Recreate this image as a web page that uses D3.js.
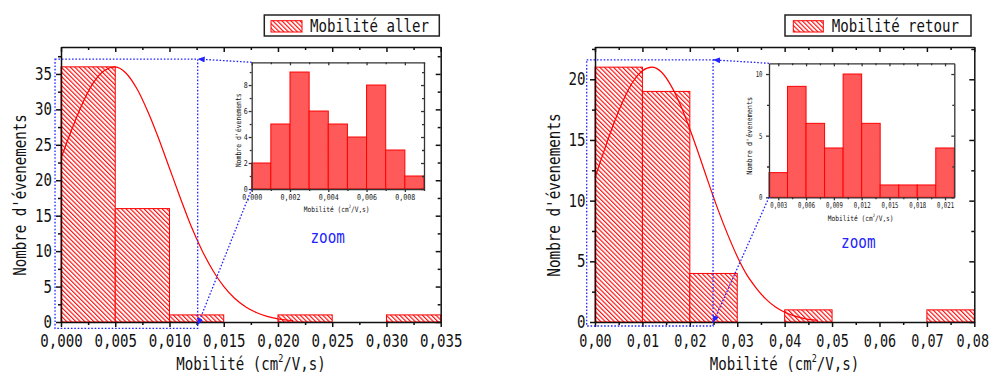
<!DOCTYPE html>
<html><head><meta charset="utf-8">
<script src="https://cdn.jsdelivr.net/npm/d3@7"></script>
<style>body{margin:0;background:#fff} svg{display:block}</style>
</head><body><svg id="c" width="991" height="374"></svg>
<script>
// ---------------- DATA ----------------
const allerEdges = [0, 0.005, 0.010, 0.015, 0.020, 0.025, 0.030, 0.035];
const allerCounts = [36, 16, 1, 0, 1, 0, 1];
const allerZoomEdges = [0, 0.001, 0.002, 0.003, 0.004, 0.005, 0.006, 0.007, 0.008, 0.009];
const allerZoomCounts = [2, 5, 9, 6, 5, 4, 8, 3, 1];
const allerFitX = [0, 0.001, 0.002, 0.003, 0.004, 0.005, 0.006, 0.007, 0.008, 0.009, 0.010, 0.011,
  0.012, 0.013, 0.014, 0.015, 0.016, 0.017, 0.018, 0.019, 0.020, 0.021, 0.0214];
const allerFitY = [23.1, 27.2, 30.9, 33.8, 35.5, 36.0, 35.1, 32.9, 29.7, 25.9, 21.7, 17.5,
  13.5, 10.1, 7.27, 5.03, 3.35, 2.15, 1.33, 0.79, 0.45, 0.25, 0.19];

const retourEdges = [0, 0.01, 0.02, 0.03, 0.04, 0.05, 0.06, 0.07, 0.08];
const retourCounts = [21, 19, 4, 0, 1, 0, 0, 1];
const retourZoomEdges = [0.002, 0.004, 0.006, 0.008, 0.010, 0.012, 0.014, 0.016, 0.018, 0.020, 0.022];
const retourZoomCounts = [2, 9, 6, 4, 10, 6, 1, 1, 1, 4];
const retourFitX = [0, 0.002, 0.004, 0.006, 0.008, 0.010, 0.012, 0.014, 0.016, 0.018, 0.020, 0.022,
  0.024, 0.026, 0.028, 0.030, 0.032, 0.034, 0.036, 0.038, 0.040, 0.042, 0.044, 0.046, 0.047];
const retourFitY = [11.9, 14.2, 16.4, 18.3, 19.8, 20.7, 21.0, 20.6, 19.5, 17.9, 15.9, 13.7,
  11.4, 9.2, 7.2, 5.4, 3.9, 2.8, 1.9, 1.25, 0.8, 0.5, 0.3, 0.17, 0.13];

const allerXTicks = ["0,000", "0,005", "0,010", "0,015", "0,020", "0,025", "0,030", "0,035"];
const allerYTicks = ["0", "5", "10", "15", "20", "25", "30", "35"];
const allerZoomXTicks = ["0,000", "0,002", "0,004", "0,006", "0,008"];
const allerZoomYTicks = ["0", "2", "4", "6", "8"];
const retourXTicks = ["0,00", "0,01", "0,02", "0,03", "0,04", "0,05", "0,06", "0,07", "0,08"];
const retourYTicks = ["0", "5", "10", "15", "20"];
const retourZoomXTicks = ["0,003", "0,006", "0,009", "0,012", "0,015", "0,018", "0,021"];
const retourZoomYTicks = ["0", "5", "10"];

const legendAller = "Mobilité aller";
const legendRetour = "Mobilité retour";
const yTitle = "Nombre d'évenements";
const zoomWord = "zoom";

// ---------------- DRAWING ----------------
const num = s => +s.replace(",", ".");
const MONO = "DejaVu Sans Mono";
const svg = d3.select("#c");
svg.append("rect").attr("width", 991).attr("height", 374).attr("fill", "#fff");
const defs = svg.append("defs");

const hp = defs.append("pattern").attr("id", "hatch").attr("patternUnits", "userSpaceOnUse")
  .attr("width", 3.2).attr("height", 3.2).attr("patternTransform", "rotate(45)");
hp.append("rect").attr("width", 3.2).attr("height", 3.2).attr("fill", "#fff");
hp.append("line").attr("x1", 0).attr("x2", 3.2).attr("y1", 1).attr("y2", 1)
  .attr("stroke", "#ff0000").attr("stroke-width", 1.1);

const dp = defs.append("pattern").attr("id", "dense").attr("patternUnits", "userSpaceOnUse")
  .attr("width", 2).attr("height", 2).attr("patternTransform", "rotate(45)");
dp.append("rect").attr("width", 2).attr("height", 2).attr("fill", "#ff2020");
dp.append("line").attr("x1", 0).attr("x2", 2).attr("y1", 1).attr("y2", 1)
  .attr("stroke", "#ffc4c4").attr("stroke-width", 0.7);

defs.append("marker").attr("id", "arr").attr("markerUnits", "userSpaceOnUse")
  .attr("markerWidth", 8).attr("markerHeight", 8).attr("refX", 7).attr("refY", 3)
  .attr("orient", "auto")
  .append("path").attr("d", "M0,0 L7,3 L0,6 Z").attr("fill", "#2323ff");

// condense monospace text horizontally to a given per-character width
function fitText(sel, cw) {
  sel.each(function () {
    const fs = parseFloat(this.getAttribute("font-size"));
    const sx = cw / (0.602 * fs);
    const x0 = +(this.getAttribute("x") || 0);
    this.setAttribute("transform", `translate(${x0},0) scale(${sx},1) translate(${-x0},0)`);
  });
}

function bars(g, x, y, edges, counts, fill) {
  const d = counts.map((c, i) => ({ c, a: edges[i], b: edges[i + 1] })).filter(o => o.c > 0);
  g.append("g").selectAll("rect").data(d).join("rect")
    .attr("x", o => x(o.a)).attr("y", o => y(o.c))
    .attr("width", o => x(o.b) - x(o.a)).attr("height", o => y(0) - y(o.c))
    .attr("fill", fill).attr("stroke", "#ff0000").attr("stroke-width", 1);
}

function frame(g, x, y, o) {
  const [xa, xb] = x.range();
  const [ya, yb] = y.range();
  const style = sel => {
    sel.selectAll("path,line").attr("stroke", o.color).attr("stroke-width", o.sw);
    sel.selectAll("text").attr("font-family", MONO).attr("font-size", o.fs).attr("fill", "#111");
  };
  const xv = o.xl.map(num), yv = o.yl.map(num);
  [[d3.axisBottom, ya, o.minor, o.xm, x], [d3.axisTop, yb, -o.minor, o.xm, x]].forEach(([ax, t, s, v, sc]) => {
    const a = g.append("g").attr("transform", `translate(0,${t})`)
      .call(ax(sc).tickValues(v).tickFormat("").tickSizeInner(s).tickSizeOuter(0));
    a.select(".domain").remove(); style(a);
  });
  [[d3.axisLeft, xa, o.minor, o.ym, y], [d3.axisRight, xb, -o.minor, o.ym, y]].forEach(([ax, t, s, v, sc]) => {
    const a = g.append("g").attr("transform", `translate(${t},0)`)
      .call(ax(sc).tickValues(v).tickFormat("").tickSizeInner(s).tickSizeOuter(0));
    a.select(".domain").remove(); style(a);
  });
  const b = g.append("g").attr("transform", `translate(0,${ya})`)
    .call(d3.axisBottom(x).tickValues(xv).tickFormat((d, i) => o.xl[i]).tickSizeInner(o.major).tickSizeOuter(0).tickPadding(o.padX));
  style(b);
  if (o.lastShift) b.selectAll("text").filter((d, i, n) => i === n.length - 1).attr("x", o.lastShift);
  fitText(b.selectAll("text"), o.cwx || o.cw);
  const t = g.append("g").attr("transform", `translate(0,${yb})`)
    .call(d3.axisTop(x).tickValues(xv).tickFormat("").tickSizeInner(-o.major).tickSizeOuter(0));
  style(t);
  const l = g.append("g").attr("transform", `translate(${xa},0)`)
    .call(d3.axisLeft(y).tickValues(yv).tickFormat((d, i) => o.yl[i]).tickSizeInner(o.major).tickSizeOuter(0).tickPadding(o.padY));
  style(l); fitText(l.selectAll("text"), o.cw);
  const r = g.append("g").attr("transform", `translate(${xb},0)`)
    .call(d3.axisRight(y).tickValues(yv).tickFormat("").tickSizeInner(-o.major).tickSizeOuter(0));
  style(r);
}

function xTitle(g, cx, by, fs, cw) {
  const sx = cw / (0.602 * fs);
  const gg = g.append("g").attr("transform", `translate(${cx},${by}) scale(${sx},1)`);
  const t = gg.append("text").attr("text-anchor", "middle").attr("font-family", MONO)
    .attr("font-size", fs).attr("fill", "#111");
  t.append("tspan").text("Mobilité (cm");
  t.append("tspan").attr("font-size", fs * 0.6).attr("dy", -fs * 0.42).text("2");
  t.append("tspan").attr("dy", fs * 0.42).text("/V,s)");
}
function yTitleDraw(g, bx, cy, fs, cw) {
  const sx = cw / (0.602 * fs);
  g.append("g").attr("transform", `translate(${bx},${cy}) rotate(-90) scale(${sx},1)`)
    .append("text").attr("text-anchor", "middle").attr("font-family", MONO)
    .attr("font-size", fs).attr("fill", "#111").text(yTitle);
}

function fitLine(g, x, y, fx, fy) {
  g.append("path").attr("d", d3.line().x(d => x(d[0])).y(d => y(d[1])).curve(d3.curveMonotoneX)(d3.zip(fx, fy)))
    .attr("fill", "none").attr("stroke", "#ff0000").attr("stroke-width", 1.2);
}

function zoomMarks(g, x, y, rx, ry, tipTop, tipBot, ix, iy) {
  const blue = "#2323ff";
  g.append("rect").attr("x", x(rx[0])).attr("y", y(ry[1]))
    .attr("width", x(rx[1]) - x(rx[0])).attr("height", y(ry[0]) - y(ry[1]))
    .attr("fill", "none").attr("stroke", blue).attr("stroke-width", 1.3).attr("stroke-dasharray", "1.6,1.8");
  const ir = ix.range(), jr = iy.range();
  g.append("line").attr("x1", ir[0]).attr("y1", jr[1]).attr("x2", x(tipTop[0])).attr("y2", y(tipTop[1]))
    .attr("stroke", blue).attr("stroke-width", 1.3).attr("stroke-dasharray", "1.6,1.8").attr("marker-end", "url(#arr)");
  g.append("line").attr("x1", ir[0]).attr("y1", jr[0]).attr("x2", x(tipBot[0])).attr("y2", y(tipBot[1]))
    .attr("stroke", blue).attr("stroke-width", 1.3).attr("stroke-dasharray", "1.6,1.8").attr("marker-end", "url(#arr)");
}

function legend(g, bx, by, bw, bh, sx, sw, tx, text) {
  g.append("rect").attr("x", bx).attr("y", by).attr("width", bw).attr("height", bh)
    .attr("fill", "#fff").attr("stroke", "#222").attr("stroke-width", 1.5);
  g.append("rect").attr("x", sx).attr("y", by + 5.7).attr("width", sw).attr("height", 11.3)
    .attr("fill", "url(#hatch)").attr("stroke", "#ff0000").attr("stroke-width", 1);
  const t = g.append("text").attr("x", tx).attr("y", by + 16.7).attr("font-family", MONO)
    .attr("font-size", 17).attr("fill", "#111").text(text);
  fitText(t, 8.5);
}

function zoomLabel(g, cx, cy) {
  const t = g.append("text").attr("x", cx).attr("y", cy + 5).attr("text-anchor", "middle")
    .attr("font-family", MONO).attr("font-size", 17).attr("fill", "#2323ff").text(zoomWord);
  fitText(t, 8.6);
}

// ===== LEFT: aller =====
{
  const g = svg.append("g");
  const x = d3.scaleLinear().domain([0, 0.035]).range([61, 440.7]);
  const y = d3.scaleLinear().domain([0, 38.8]).range([322, 47]);
  bars(g, x, y, allerEdges, allerCounts, "url(#hatch)");
  fitLine(g, x, y, allerFitX, allerFitY);
  frame(g, x, y, { xl: allerXTicks, yl: allerYTicks, xm: d3.range(0.0025, 0.035, 0.005), ym: d3.range(2.5, 38.8, 5),
    major: 5, minor: 3, padX: 7.5, padY: 4, fs: 17, cw: 8.5, color: "#111", sw: 1.5 });
  xTitle(g, 251, 369.5, 17, 8.5);
  yTitleDraw(g, 25.5, 195, 17, 8.5);
  const ix = d3.scaleLinear().domain([0, 0.009]).range([251.7, 424]);
  const iy = d3.scaleLinear().domain([0, 9.75]).range([189, 62.3]);
  g.append("rect").attr("x", 251.7).attr("y", 62.3).attr("width", 424 - 251.7).attr("height", 189 - 62.3).attr("fill", "#fff");
  bars(g, ix, iy, allerZoomEdges, allerZoomCounts, "url(#dense)");
  frame(g, ix, iy, { xl: allerZoomXTicks, yl: allerZoomYTicks, xm: d3.range(0.001, 0.0095, 0.002), ym: d3.range(1, 9.75, 2),
    major: 3, minor: 2, padX: 2.5, padY: 1, fs: 8, cw: 4, color: "#333", sw: 1.3 });
  xTitle(g, 336.7, 211.5, 7.5, 3.75);
  yTitleDraw(g, 240.5, 130.3, 7.5, 3.9);
  zoomMarks(g, x, y, [-0.00055, 0.0126], [-0.9, 37.1], [0.0126, 37.1], [0.0126, -0.45], ix, iy);
  zoomLabel(g, 327.7, 237.7);
  legend(g, 264.3, 15, 175, 21, 271, 31, 310, legendAller);
}

// ===== RIGHT: retour =====
{
  const g = svg.append("g");
  const x = d3.scaleLinear().domain([0, 0.08]).range([595, 974.3]);
  const y = d3.scaleLinear().domain([0, 22.66]).range([322, 47]);
  bars(g, x, y, retourEdges, retourCounts, "url(#hatch)");
  fitLine(g, x, y, retourFitX, retourFitY);
  frame(g, x, y, { xl: retourXTicks, yl: retourYTicks, xm: d3.range(0.005, 0.08, 0.01), ym: d3.range(2.5, 22.66, 5),
    major: 5, minor: 3, padX: 7.5, padY: 4.5, fs: 17, cw: 8.5, cwx: 8.1, lastShift: -2, color: "#111", sw: 1.5 });
  xTitle(g, 784.5, 369.5, 17, 8.5);
  yTitleDraw(g, 559.5, 195, 17, 8.6);
  const ix = d3.scaleLinear().domain([0.002, 0.022]).range([769, 954.3]);
  const iy = d3.scaleLinear().domain([0, 10.87]).range([197.3, 63.3]);
  g.append("rect").attr("x", 769).attr("y", 63.3).attr("width", 954.3 - 769).attr("height", 197.3 - 63.3).attr("fill", "#fff");
  bars(g, ix, iy, retourZoomEdges, retourZoomCounts, "url(#dense)");
  frame(g, ix, iy, { xl: retourZoomXTicks, yl: retourZoomYTicks, xm: d3.range(0.0045, 0.021, 0.003), ym: [2.5, 7.5],
    major: 3, minor: 2, padX: 2.5, padY: 3.5, fs: 8, cw: 3.4, color: "#333", sw: 1.3 });
  xTitle(g, 860.7, 220.5, 7.5, 3.75);
  yTitleDraw(g, 752, 135.8, 7.5, 4.1);
  zoomMarks(g, x, y, [-0.00175, 0.0249], [-0.33, 21.6], [0.0249, 21.6], [0.0249, -0.05], ix, iy);
  zoomLabel(g, 858.3, 242.7);
  legend(g, 785, 15, 186, 21, 793.3, 30, 831.7, legendRetour);
}
</script></body></html>
